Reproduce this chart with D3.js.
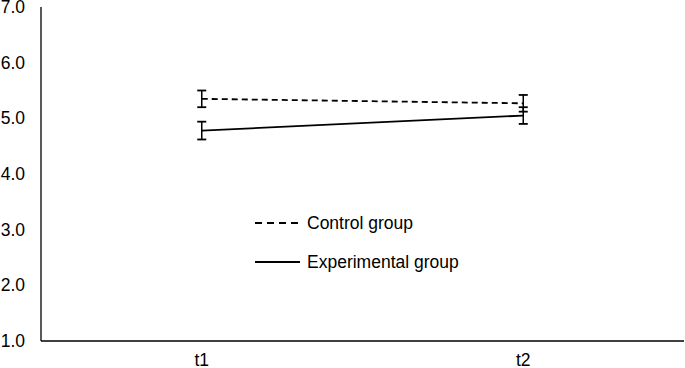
<!DOCTYPE html>
<html>
<head>
<meta charset="utf-8">
<script src="https://cdn.jsdelivr.net/npm/d3@7"></script>
<style>
  body { margin: 0; background: #fff; }
  text { font-family: "Liberation Sans", Arial, sans-serif; fill: #000; }
</style>
</head>
<body>
<svg id="chart" width="685" height="368"></svg>
<script>
// data
const times = ["t1", "t2"];
const controlMean = [5.35, 5.27];
const controlErr = [0.15, 0.15];
const expMean = [4.78, 5.05];
const expErr = [0.16, 0.15];
const yTicks = [1, 2, 3, 4, 5, 6, 7];

const margin = {top: 7, right: 1, bottom: 27, left: 41},
    width = 685 - margin.left - margin.right,
    height = 368 - margin.top - margin.bottom;

const svg = d3.select("#chart")
    .append("g")
    .attr("transform", `translate(${margin.left},${margin.top})`);

const x = d3.scaleBand().domain(times).range([0, width]);
const y = d3.scaleLinear().domain([1, 7]).range([height, 0]);

// axes
svg.append("line")
    .attr("x1", 0).attr("x2", 0).attr("y1", 0).attr("y2", height)
    .style("stroke", "#000").style("stroke-width", 1.3);
svg.append("line")
    .attr("x1", 0).attr("x2", width).attr("y1", height).attr("y2", height)
    .style("stroke", "#000").style("stroke-width", 1.3);

svg.selectAll(".ylab")
    .data(yTicks)
    .enter().append("text")
    .attr("class", "ylab")
    .attr("x", -16)
    .attr("y", d => y(d))
    .attr("dy", "0.35em")
    .attr("text-anchor", "end")
    .style("font-size", "17.5px")
    .text(d => d3.format(".1f")(d));

svg.selectAll(".xlab")
    .data(times)
    .enter().append("text")
    .attr("class", "xlab")
    .attr("x", d => x(d) + x.bandwidth() / 2)
    .attr("y", height + 25)
    .attr("text-anchor", "middle")
    .style("font-size", "17.5px")
    .text(d => d);

const series = [
    {name: "Control group", mean: controlMean, err: controlErr, dash: "6,4"},
    {name: "Experimental group", mean: expMean, err: expErr, dash: null}
];

const line = d3.line()
    .x((d, i) => x(times[i]) + x.bandwidth() / 2)
    .y(d => y(d));

series.forEach(s => {
    svg.append("path")
        .attr("d", line(s.mean))
        .style("fill", "none")
        .style("stroke", "#000")
        .style("stroke-width", 1.8)
        .style("stroke-dasharray", s.dash);

    const eb = svg.selectAll(null)
        .data(s.mean.map((m, i) => ({t: times[i], m: m, e: s.err[i]})))
        .enter().append("g");
    const cx = d => x(d.t) + x.bandwidth() / 2;
    eb.append("line")
        .attr("x1", cx).attr("x2", cx)
        .attr("y1", d => y(d.m + d.e)).attr("y2", d => y(d.m - d.e))
        .style("stroke", "#000").style("stroke-width", 1.5);
    [1, -1].forEach(sg => {
        eb.append("line")
            .attr("x1", d => cx(d) - 4.5).attr("x2", d => cx(d) + 4.5)
            .attr("y1", d => y(d.m + sg * d.e)).attr("y2", d => y(d.m + sg * d.e))
            .style("stroke", "#000").style("stroke-width", 1.8);
    });
});

// legend
const legend = svg.append("g")
    .attr("transform", `translate(${255 - margin.left},${223 - margin.top})`);
series.forEach((s, i) => {
    legend.append("line")
        .attr("x1", 0).attr("x2", 45)
        .attr("y1", i * 39).attr("y2", i * 39)
        .style("stroke", "#000")
        .style("stroke-width", 1.8)
        .style("stroke-dasharray", s.dash ? "7,5" : null);
    legend.append("text")
        .attr("x", 52)
        .attr("y", i * 39)
        .attr("dy", "0.35em")
        .style("font-size", "17.5px")
        .text(s.name);
});
</script>
</body>
</html>
